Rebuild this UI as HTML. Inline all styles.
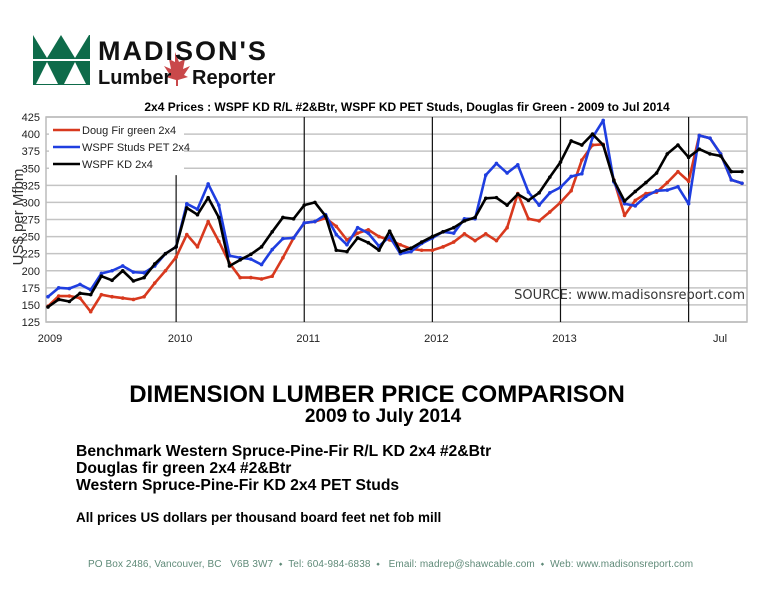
<!DOCTYPE html>
<html><head><meta charset="utf-8"><style>
body{margin:0;width:768px;height:594px;background:#fff;font-family:"Liberation Sans",sans-serif;position:relative;overflow:hidden}
.abs{position:absolute;white-space:nowrap}
</style></head><body>
<div class="abs" style="left:0;top:0;width:300px;height:95px">
<svg width="300" height="95">
<rect x="33" y="35" width="57" height="50" fill="#0e6b4a"/>
<polygon points="33,35 47,58 61,35" fill="#fff"/><polygon points="61,35 75,58 89,35" fill="#fff"/>
<polygon points="36,84 47,62 58,84" fill="#fff"/><polygon points="64,84 75,62 86,84" fill="#fff"/>
<line x1="33" y1="60" x2="90" y2="60" stroke="#fff" stroke-width="2"/>
<path d="M175,52 l4,10 6,-3 -2,10 7,-3 -6,9 4,2 -10,3 0,6 -2,0 0,-6 -10,-3 4,-2 -6,-9 7,3 -2,-10 6,3z" fill="#c0282a" opacity="0.85"/>
<text x="98" y="60" font-family="Liberation Sans" font-weight="bold" font-size="27" fill="#111" letter-spacing="2">MADISON'S</text>
<text x="98" y="84" font-family="Liberation Sans" font-weight="bold" font-size="20" fill="#111">Lumber</text>
<text x="192" y="84" font-family="Liberation Sans" font-weight="bold" font-size="20" fill="#111">Reporter</text>
</svg></div>
<svg id="chart" class="abs" style="left:0;top:95px" width="768" height="255"></svg>
<div class="abs" style="left:0;width:754px;text-align:center;top:381px;font-size:24px;font-weight:bold">DIMENSION LUMBER PRICE COMPARISON</div>
<div class="abs" style="left:0;width:766px;text-align:center;top:406px;font-size:19px;font-weight:bold">2009 to July 2014</div>
<div class="abs" style="left:76px;top:443px;font-size:15.7px;font-weight:bold">Benchmark Western Spruce-Pine-Fir R/L KD 2x4 #2&amp;Btr</div>
<div class="abs" style="left:76px;top:460px;font-size:15.7px;font-weight:bold">Douglas fir green 2x4 #2&amp;Btr</div>
<div class="abs" style="left:76px;top:477px;font-size:15.7px;font-weight:bold">Western Spruce-Pine-Fir KD 2x4 PET Studs</div>
<div class="abs" style="left:76px;top:510px;font-size:13.5px;font-weight:bold">All prices US dollars per thousand board feet net fob mill</div>
<div class="abs" style="left:88px;top:559px;font-size:10px;color:#5f8a78;letter-spacing:0.1px">PO Box 2486, Vancouver, BC &nbsp; V6B 3W7 &nbsp;⬩&nbsp; Tel: 604-984-6838 &nbsp;⬩ &nbsp; Email: madrep@shawcable.com &nbsp;⬩&nbsp; Web: www.madisonsreport.com</div>
<script>
const yTicks=[125,150,175,200,225,250,275,300,325,350,375,400,425];
const yearLabels=["2009","2010","2011","2012","2013","Jul"];
const yearIdx=[0,12,24,36,48,60];
const dougFir=[148,163,163,160,140,165,162,160,158,162,182,200,220,253,235,272,243,211,190,190,188,192,219,248,270,272,277,265,245,255,260,250,245,238,232,230,230,235,242,254,244,254,244,263,313,276,273,286,300,317,362,384,385,333,281,303,313,315,329,345,331,398,394,371,333,328];
const studs=[162,175,174,180,172,196,200,207,198,197,207,225,235,298,290,327,296,222,219,217,209,231,247,248,270,272,282,253,238,263,255,236,250,225,228,240,248,257,255,276,276,340,357,343,355,315,296,314,322,338,342,395,420,330,298,295,309,317,318,323,298,398,394,371,333,328];
const kd=[147,158,155,167,165,192,186,200,185,190,210,225,235,292,282,307,278,207,216,224,235,257,278,276,296,300,280,230,228,248,241,230,258,228,233,242,250,257,263,273,278,306,307,296,312,303,314,337,359,390,384,400,384,332,302,316,329,343,371,384,366,378,371,368,345,345];
const NS="http://www.w3.org/2000/svg";
const svg=document.getElementById('chart');
const L=46,R=747,T=22,B=227;
const xS=i=>48+i*(742-48)/65;
const yS=v=>B-(v-125)*(B-T)/300;
function mk(tag,attrs,parent){const e=document.createElementNS(NS,tag);for(const k in attrs)e.setAttribute(k,attrs[k]);(parent||svg).appendChild(e);return e;}
let t=mk('text',{x:407,y:16,'font-size':12,'font-weight':'bold','text-anchor':'middle','font-family':'Liberation Sans'});


t.textContent="2x4 Prices : WSPF KD R/L #2&Btr, WSPF KD PET Studs, Douglas fir Green - 2009 to Jul 2014";
yTicks.forEach(v=>{
 const g=mk('line',{x1:L,x2:R,y1:yS(v),y2:yS(v),stroke:'#c4c4c4','stroke-width':1.5});
 
 
 const tl=mk('text',{x:40,y:yS(v)+4,'font-size':11,'text-anchor':'end','font-family':'Liberation Sans',fill:'#222'});
 
 
 tl.textContent=v;
});
const fr=mk('rect',{x:L,y:T,width:R-L,height:B-T,fill:'none',stroke:'#bbb','stroke-width':1.5});


yearIdx.forEach((i,k)=>{
 const x=k===0?L:xS(i);
 if(k>0){const vl=mk('line',{x1:x,x2:x,y1:k===1?yS(340):T,y2:B,stroke:'#111','stroke-width':1.2});
 
 }
 const xl=mk('text',{x:k===5?720:x+4,y:247,'font-size':11,'text-anchor':'middle','font-family':'Liberation Sans',fill:'#222'});
 
 
 xl.textContent=yearLabels[k];
});
const yt=mk('text',{x:0,y:0,'font-size':15,'text-anchor':'middle','font-family':'Liberation Sans',fill:'#333',transform:'translate(23,122) rotate(-90)'});


yt.textContent="US$ per Mfbm";
const src=mk('text',{x:745,y:204,'font-size':13,'text-anchor':'end','font-family':'DejaVu Sans',fill:'#333'});


src.textContent="SOURCE: www.madisonsreport.com";
const series=[[dougFir,'#d8391e','doug-fir-line'],[studs,'#1f3ee0','studs-line'],[kd,'#000','kd-line']];
series.forEach(([d,c,n])=>{
 const p=mk('polyline',{points:d.map((v,i)=>xS(i)+','+yS(v)).join(' '),fill:'none',stroke:c,'stroke-width':2.6,'stroke-linejoin':'round'});
 
 
 d.forEach((v,i)=>{const m=mk('circle',{cx:xS(i),cy:yS(v),r:1.8,fill:c});
 
 });
});
const lg=mk('rect',{x:49,y:25,width:135,height:50,fill:'#fff'});


[['Doug Fir green 2x4','#d8391e'],['WSPF Studs PET 2x4','#1f3ee0'],['WSPF KD 2x4','#000']].forEach(([s,c],k)=>{
 const y=35+k*17;
 const ll=mk('line',{x1:53,x2:80,y1:y,y2:y,stroke:c,'stroke-width':2.6});
 
 
 const lt=mk('text',{x:82,y:y+4,'font-size':11,'font-family':'Liberation Sans',fill:'#222'});
 
 
 lt.textContent=s;
});
</script>
</body></html>
